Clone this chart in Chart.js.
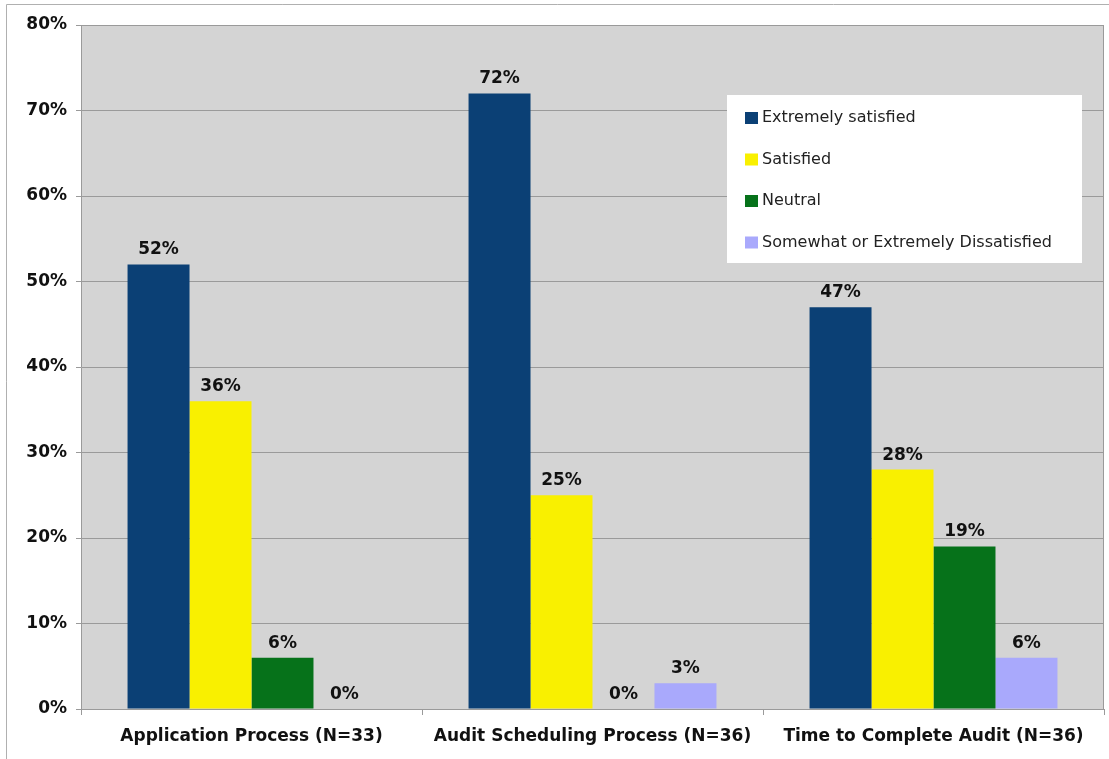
<!DOCTYPE html>
<html>
<head>
<meta charset="utf-8">
<title>Satisfaction with the audit process</title>
<script src="https://cdn.jsdelivr.net/npm/chart.js@4.4.1/dist/chart.umd.min.js"></script>
<style>
  html, body { margin: 0; padding: 0; background: #fff; }
  #wrap { position: relative; width: 1109px; height: 759px; }
</style>
</head>
<body>
<div id="wrap"><canvas id="surveyChart" width="1109" height="759"></canvas></div>
<script>
// survey results, percent of respondents
const categories = ['Application Process (N=33)', 'Audit Scheduling Process (N=36)', 'Time to Complete Audit (N=36)'];
const seriesNames = ['Extremely satisfied', 'Satisfied', 'Neutral', 'Somewhat or Extremely Dissatisfied'];
const extremelySatisfied = [52, 72, 47];
const satisfied = [36, 25, 28];
const neutral = [6, 0, 19];
const dissatisfied = [0, 3, 6];
const yTicks = [0, 10, 20, 30, 40, 50, 60, 70, 80];

const colors = ['#0b4075', '#f9f000', '#06721a', '#a9a9fc'];
const FONT = '"DejaVu Sans", Verdana, sans-serif';

// frame, plot background and plot border
const framePlugin = {
    id: 'frame',
    beforeDraw(chart) {
        const ctx = chart.ctx;
        const a = chart.chartArea;
        ctx.save();
        ctx.fillStyle = '#fff';
        ctx.fillRect(0, 0, chart.width, chart.height);
        ctx.strokeStyle = '#b0b0b0';
        ctx.lineWidth = 1;
        ctx.beginPath();
        ctx.moveTo(6.5, chart.height);
        ctx.lineTo(6.5, 4.5);
        ctx.lineTo(chart.width, 4.5);
        ctx.stroke();
        ctx.fillStyle = '#d4d4d4';
        ctx.fillRect(a.left, a.top, a.right - a.left, a.bottom - a.top);
        ctx.restore();
    },
    afterDatasetsDraw(chart) {
        const ctx = chart.ctx;
        const a = chart.chartArea;
        ctx.save();
        ctx.strokeStyle = '#9a9a9a';
        ctx.lineWidth = 1;
        ctx.beginPath();
        ctx.moveTo(a.left + 0.5, a.top + 0.5);
        ctx.lineTo(a.right - 0.5, a.top + 0.5);
        ctx.lineTo(a.right - 0.5, a.bottom);
        ctx.stroke();
        ctx.restore();
    }
};

// percent labels above every bar
const valueLabels = {
    id: 'valueLabels',
    afterDatasetsDraw(chart) {
        const ctx = chart.ctx;
        ctx.save();
        ctx.font = 'bold 17px ' + FONT;
        ctx.fillStyle = '#111';
        ctx.textAlign = 'center';
        ctx.textBaseline = 'bottom';
        chart.data.datasets.forEach((ds, i) => {
            chart.getDatasetMeta(i).data.forEach((bar, j) => {
                ctx.fillText(ds.data[j] + '%', bar.x, bar.y - 6);
            });
        });
        ctx.restore();
    }
};

// legend box drawn inside the plot
const boxLegend = {
    id: 'boxLegend',
    afterDraw(chart) {
        const ctx = chart.ctx;
        const x = 727, y = 95, w = 355, h = 168;
        ctx.save();
        ctx.fillStyle = '#fff';
        ctx.fillRect(x, y, w, h);
        ctx.font = '16px ' + FONT;
        ctx.textBaseline = 'middle';
        chart.data.datasets.forEach((ds, i) => {
            const cy = y + 23 + i * 41.5;
            ctx.fillStyle = ds.backgroundColor;
            ctx.fillRect(745, cy - 6, 13, 12);
            ctx.fillStyle = '#222';
            ctx.fillText(ds.label, 762, cy);
        });
        ctx.restore();
    }
};

const seriesValues = [extremelySatisfied, satisfied, neutral, dissatisfied];

new Chart(document.getElementById('surveyChart'), {
    type: 'bar',
    data: {
        labels: categories,
        datasets: seriesNames.map((name, i) => ({
            label: name,
            data: seriesValues[i],
            backgroundColor: colors[i],
            borderWidth: 0,
            barPercentage: 1,
            categoryPercentage: 0.727
        }))
    },
    options: {
        responsive: false,
        animation: false,
        layout: { padding: { top: 25, right: 5, left: 0, bottom: 0 } },
        plugins: {
            legend: { display: false },
            tooltip: { enabled: false }
        },
        scales: {
            x: {
                grid: {
                    offset: true,
                    drawOnChartArea: false,
                    drawTicks: true,
                    tickLength: 6,
                    color: '#9a9a9a'
                },
                border: { color: '#9a9a9a' },
                ticks: {
                    color: '#111',
                    padding: 11,
                    font: { family: FONT, size: 17, weight: 'bold' }
                },
                afterFit(scale) { scale.height = 50; }
            },
            y: {
                min: 0,
                max: 80,
                afterBuildTicks(scale) { scale.ticks = yTicks.map(v => ({ value: v })); },
                grid: { color: '#9a9a9a', tickLength: 5 },
                border: { color: '#9a9a9a' },
                ticks: {
                    color: '#111',
                    padding: 9,
                    font: { family: FONT, size: 17, weight: 'bold' },
                    callback: v => v + '%'
                },
                afterFit(scale) { scale.width = 81; }
            }
        }
    },
    plugins: [framePlugin, valueLabels, boxLegend]
});
</script>
</body>
</html>
